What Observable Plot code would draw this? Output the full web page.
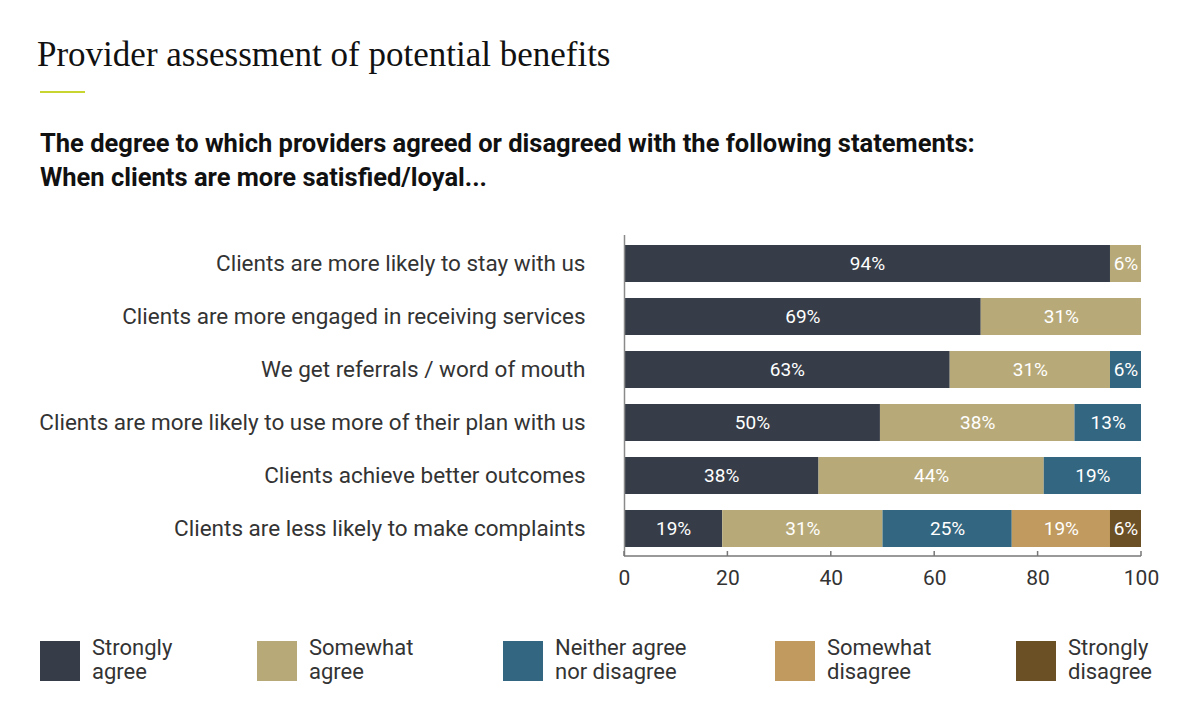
<!DOCTYPE html>
<html><head><meta charset="utf-8">
<script src="https://cdn.jsdelivr.net/npm/d3@7"></script>
<script src="https://cdn.jsdelivr.net/npm/@observablehq/plot@0.6"></script>
<style>
body{margin:0;background:#fff;width:1200px;height:722px;position:relative;overflow:hidden;font-family:Roboto,sans-serif;}
#chart{position:absolute;left:0;top:0;}
#title{position:absolute;left:37px;top:35px;font-family:"Liberation Serif",serif;font-size:35px;color:#111;white-space:nowrap;line-height:40px;}
#rule{position:absolute;left:40px;top:91px;width:45px;height:2px;background:#c8d42f;}
#sub{position:absolute;left:40px;top:126px;font-family:Roboto,sans-serif;font-weight:700;font-size:25.5px;line-height:34px;color:#111;white-space:nowrap;}
.li{position:absolute;top:641px;}
.sw{position:absolute;left:0;top:0;width:40px;height:40px;}
.lt{position:absolute;left:52px;top:-5px;font-size:22px;line-height:24px;color:#333;white-space:nowrap;}
</style></head>
<body>
<div id="chart"></div>
<div id="title">Provider assessment of potential benefits</div>
<div id="rule"></div>
<div id="sub">The degree to which providers agreed or disagreed with the following statements:<br>When clients are more satisfied/loyal...</div>
<div id="legend"></div>
<script>
const statements = [
  "Clients are more likely to stay with us",
  "Clients are more engaged in receiving services",
  "We get referrals / word of mouth",
  "Clients are more likely to use more of their plan with us",
  "Clients achieve better outcomes",
  "Clients are less likely to make complaints"
];
const categories = ["Strongly agree","Somewhat agree","Neither agree nor disagree","Somewhat disagree","Strongly disagree"];
const legendLines = [["Strongly","agree"],["Somewhat","agree"],["Neither agree","nor disagree"],["Somewhat","disagree"],["Strongly","disagree"]];
const stronglyAgree    = [94, 69, 63, 50, 38, 19];
const somewhatAgree    = [ 6, 31, 31, 38, 44, 31];
const neither          = [ 0,  0,  6, 13, 19, 25];
const somewhatDisagree = [ 0,  0,  0,  0,  0, 19];
const stronglyDisagree = [ 0,  0,  0,  0,  0,  6];
const colors = ["#363d48","#b8aa78","#336680","#c09a5e","#6b4f25"];
const xTicks = [0, 20, 40, 60, 80, 100];

const series = [stronglyAgree, somewhatAgree, neither, somewhatDisagree, stronglyDisagree];
const data = [];
statements.forEach((s, i) => {
  categories.forEach((c, j) => {
    const v = series[j][i];
    if (v > 0) data.push({statement: s, category: c, value: v});
  });
});

const chart = Plot.plot({
  width: 1200, height: 600,
  marginLeft: 624, marginRight: 59, marginTop: 235, marginBottom: 44,
  style: {background: "transparent", fontFamily: "Roboto, sans-serif", overflow: "visible"},
  x: {domain: [0, 1]},
  y: {domain: statements, range: [227, 566], padding: 0.294},
  color: {domain: categories, range: colors},
  marks: [
    Plot.barX(data, Plot.stackX({offset: "normalize", x: "value", y: "statement", fill: "category"})),
    Plot.text(data, Plot.stackX({offset: "normalize", x: "value", y: "statement", z: "category", text: d => d.value + "%", fill: "white", fontSize: 19})),
    Plot.ruleX([0], {stroke: "#8a8a8a", strokeWidth: 1.5}),
    Plot.axisX({ticks: xTicks.map(d => d / 100), tickFormat: d => Math.round(d * 100), tickSize: 0, tickPadding: 14, fontSize: 21, color: "#333", label: null}),
    Plot.axisY({tickSize: 0, tickPadding: 39, fontSize: 22.5, color: "#333", label: null})
  ]
});
document.getElementById("chart").appendChild(chart);

// bottom axis line with upward ticks, placed through the x scale
const xs = chart.scale("x");
const axisY = 600 - 44;
const g = d3.select(chart).append("g").attr("stroke", "#777").attr("stroke-width", 1.5);
g.append("line").attr("x1", xs.apply(0)).attr("x2", xs.apply(1)).attr("y1", axisY).attr("y2", axisY);
xTicks.forEach(t => {
  g.append("line").attr("x1", xs.apply(t / 100)).attr("x2", xs.apply(t / 100)).attr("y1", axisY).attr("y2", axisY - 5);
});

// legend
const legendX = [40, 257, 503, 775, 1016];
const leg = document.getElementById("legend");
categories.forEach((c, j) => {
  const item = document.createElement("div");
  item.className = "li";
  item.style.left = legendX[j] + "px";
  item.innerHTML = `<div class="sw" style="background:${colors[j]}"></div><div class="lt">${legendLines[j][0]}<br>${legendLines[j][1]}</div>`;
  leg.appendChild(item);
});
</script>
</body></html>
